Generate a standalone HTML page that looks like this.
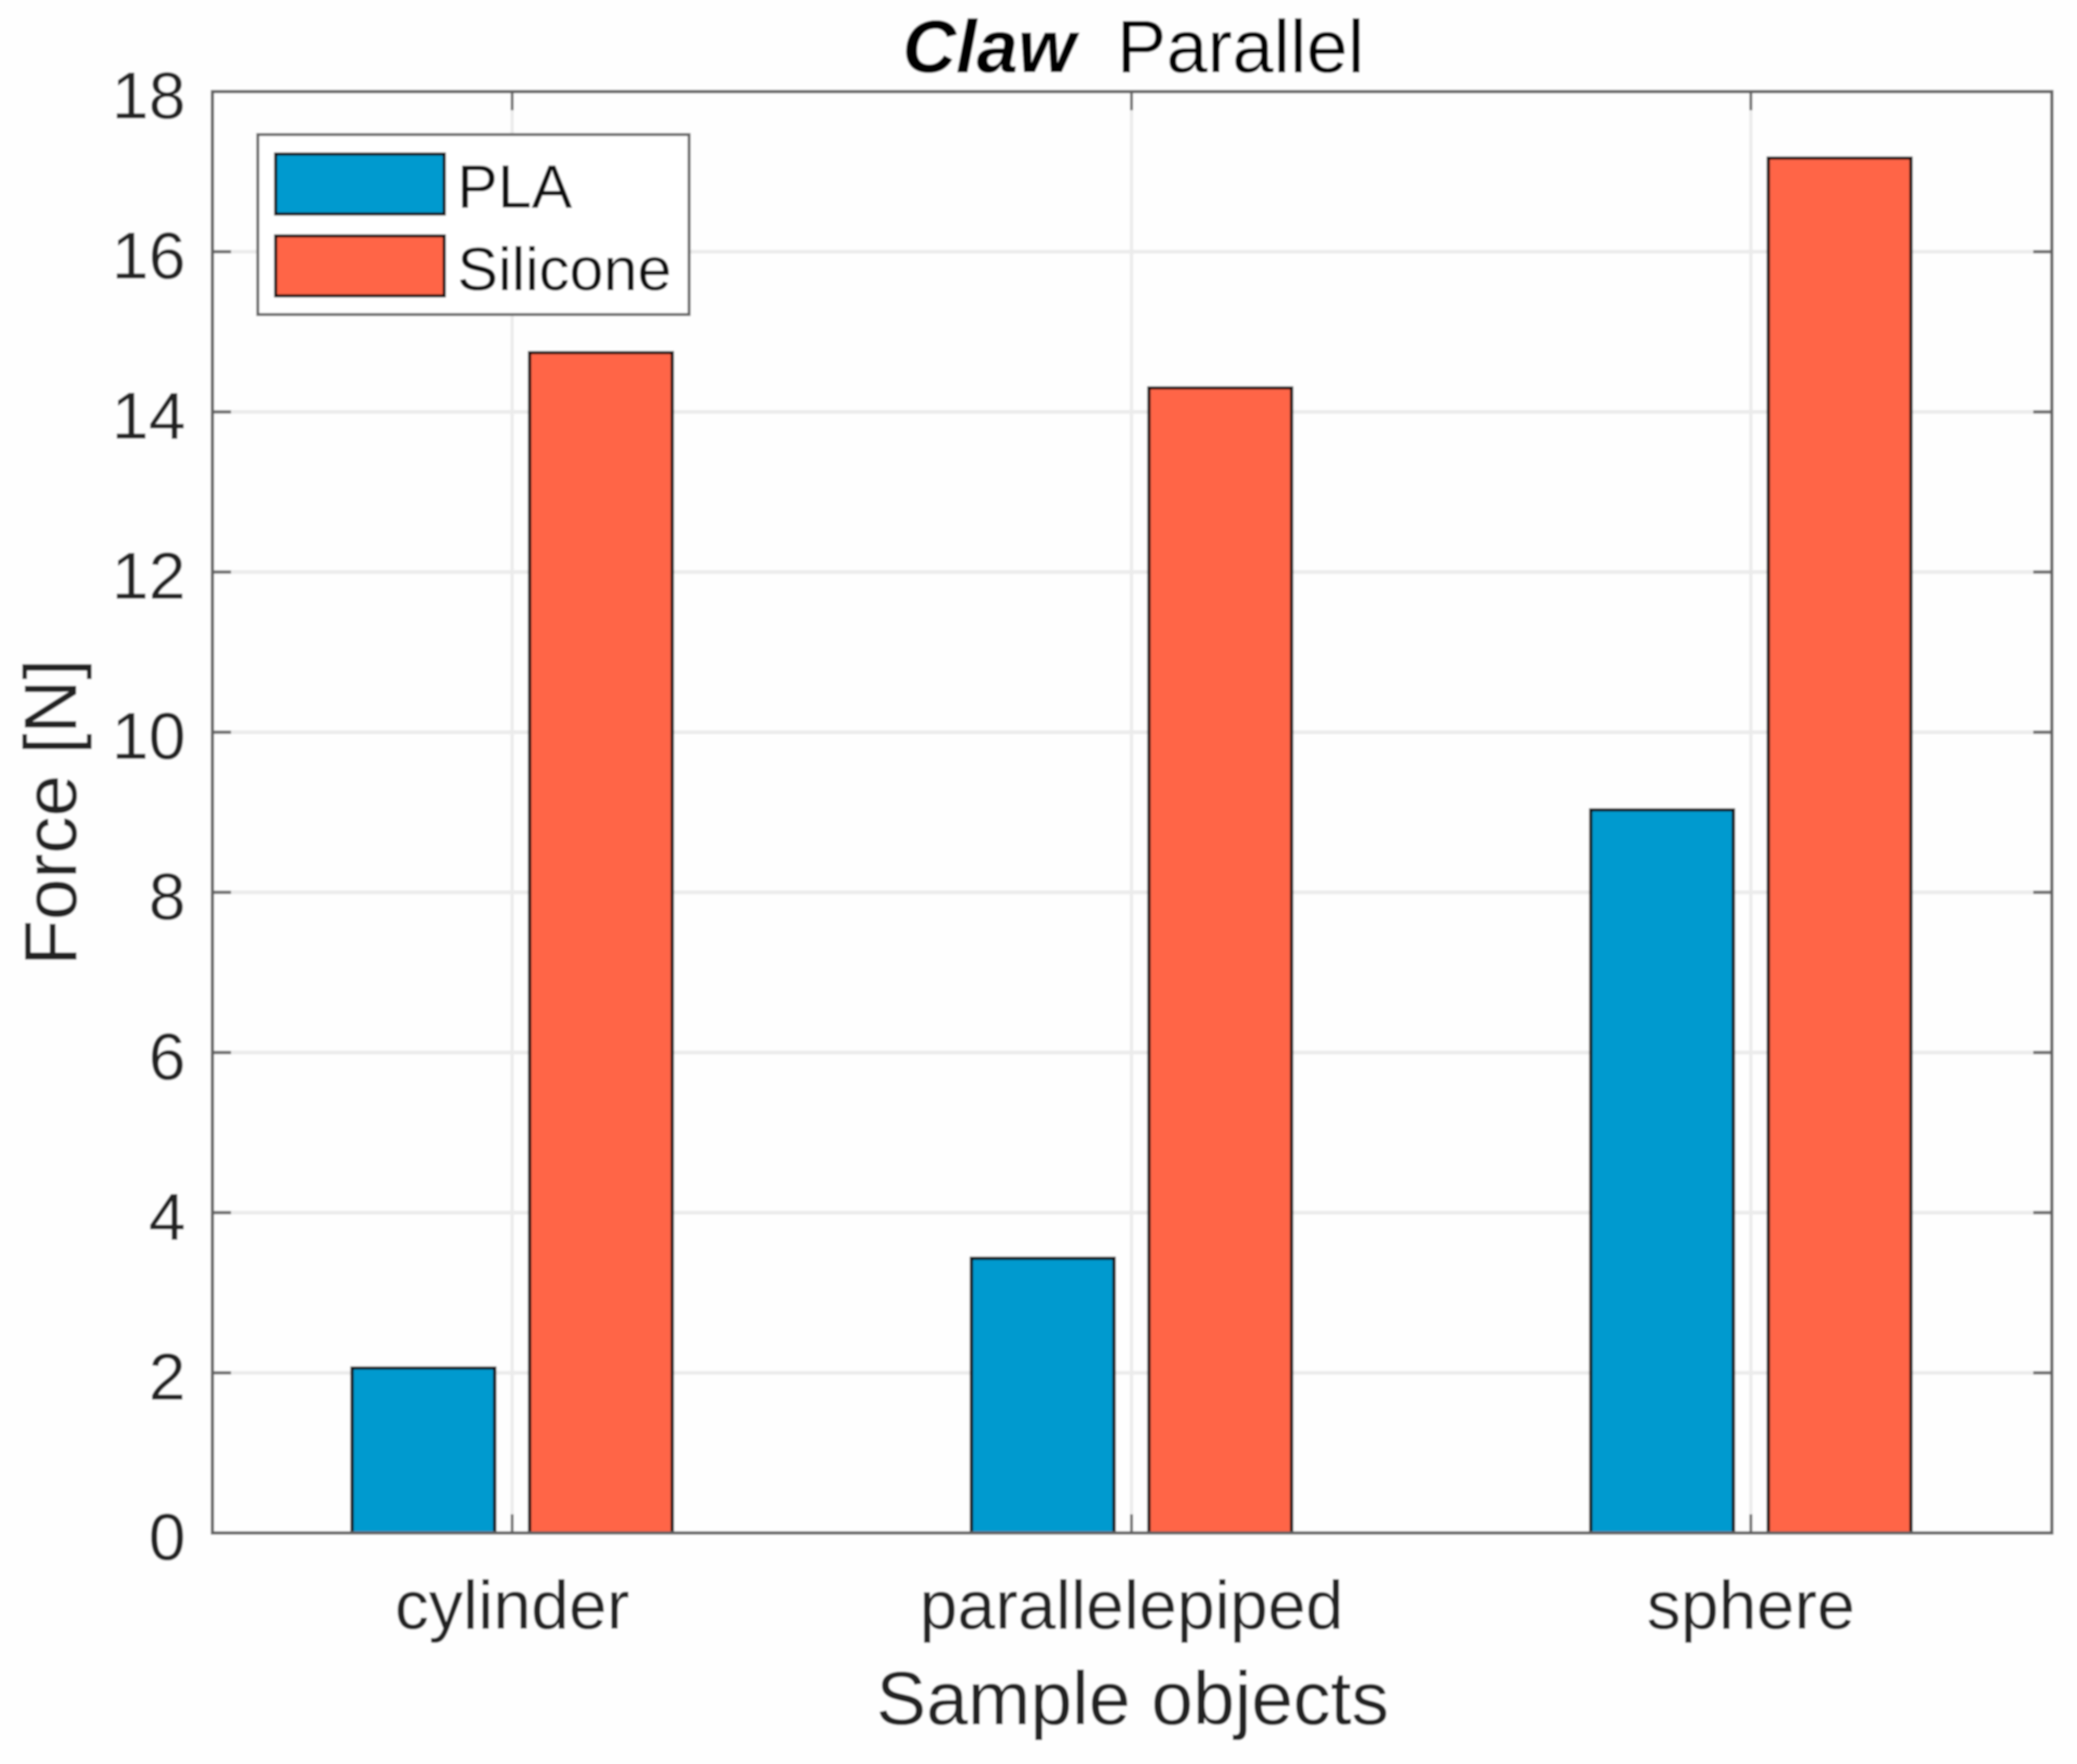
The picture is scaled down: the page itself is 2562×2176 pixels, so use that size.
<!DOCTYPE html>
<html lang="en">
<head>
<meta charset="utf-8">
<title>Claw Parallel</title>
<style>
html,body{margin:0;padding:0;background:#fefefe;}
svg{display:block;}
text{font-family:"Liberation Sans",Arial,sans-serif;fill:#222222;}
</style>
</head>
<body>
<svg id="chart" xmlns="http://www.w3.org/2000/svg" width="2562" height="2176" viewBox="0 0 2562 2176">
  <defs>
    <filter id="soft" x="-2%" y="-2%" width="104%" height="104%"><feGaussianBlur stdDeviation="1.1"/></filter>
  </defs>
  <g filter="url(#soft)">
    <rect x="0" y="0" width="2562" height="2176" fill="#fefefe"/>
    <g id="grid"></g>
    <g id="bars"></g>
    <g id="ticks"></g>
    <rect x="262" y="113" width="2269" height="1778" fill="none" stroke="#606060" stroke-width="4"/>
    <g id="labels"></g>
    <text x="1398" y="89" font-size="91.5" text-anchor="middle" style="white-space:pre;fill:#000"><tspan font-weight="bold" font-style="italic">Claw</tspan>  Parallel</text>
    <text x="1397" y="2127" font-size="92.5" text-anchor="middle">Sample objects</text>
    <text transform="translate(94 1002) rotate(-90)" font-size="92" text-anchor="middle">Force [N]</text>
    <g>
      <rect x="318" y="166" width="532" height="222" fill="#ffffff" stroke="#606060" stroke-width="3.5"/>
      <rect x="340" y="190" width="208" height="74" fill="#009ACF" stroke="#111111" stroke-width="4"/>
      <text x="564" y="256" font-size="75" style="fill:#111">PLA</text>
      <rect x="340" y="291" width="208" height="74" fill="#FF6547" stroke="#111111" stroke-width="4"/>
      <text x="564" y="358" font-size="75.5" style="fill:#111">Silicone</text>
    </g>
  </g>
</svg>
<script>
const categories = ["cylinder", "parallelepiped", "sphere"];
const plaValues = [2.06, 3.43, 9.03];
const siliconeValues = [14.74, 14.30, 17.17];
const yTickValues = [0, 2, 4, 6, 8, 10, 12, 14, 16, 18];

const NS = "http://www.w3.org/2000/svg";
const PLOT = { left: 262, right: 2531, top: 113, bottom: 1891 };
const Y_MAX = 18;
const BAR_WIDTH = 176;
const BAR_OFFSET = 109.5;
const TICK_LEN = 23;

function xScale(i) {
  const xMin = 0.516, xMax = 3.486;
  return PLOT.left + ((i + 1 - xMin) / (xMax - xMin)) * (PLOT.right - PLOT.left);
}
function yScale(v) {
  return PLOT.bottom - (v / Y_MAX) * (PLOT.bottom - PLOT.top);
}
function make(tag, attrs, parent) {
  const el = document.createElementNS(NS, tag);
  for (const k in attrs) el.setAttribute(k, attrs[k]);
  parent.appendChild(el);
  return el;
}

const gridG = document.getElementById("grid");
const barsG = document.getElementById("bars");
const ticksG = document.getElementById("ticks");
const labelsG = document.getElementById("labels");

yTickValues.forEach(function (v) {
  const y = yScale(v);
  if (v > 0 && v < Y_MAX) {
    const g = make("line", { x1: PLOT.left, x2: PLOT.right, y1: y, y2: y, stroke: "#ebebeb", "stroke-width": 4.5 }, gridG);
    
    
  }
  const t1 = make("line", { x1: PLOT.left, x2: PLOT.left + TICK_LEN, y1: y, y2: y, stroke: "#6a6a6a", "stroke-width": 4 }, ticksG);
  
  
  const t2 = make("line", { x1: PLOT.right - TICK_LEN, x2: PLOT.right, y1: y, y2: y, stroke: "#6a6a6a", "stroke-width": 4 }, ticksG);
  
  
  const lab = make("text", { x: 229, y: y + 33, "font-size": 82, "text-anchor": "end" }, labelsG);
  lab.textContent = String(v);
  
  
});

categories.forEach(function (name, i) {
  const x = xScale(i);
  const g = make("line", { x1: x, x2: x, y1: PLOT.top, y2: PLOT.bottom, stroke: "#ebebeb", "stroke-width": 4 }, gridG);
  
  

  const t1 = make("line", { x1: x, x2: x, y1: PLOT.top, y2: PLOT.top + TICK_LEN, stroke: "#6a6a6a", "stroke-width": 3.5 }, ticksG);
  
  
  const t2 = make("line", { x1: x, x2: x, y1: PLOT.bottom - TICK_LEN, y2: PLOT.bottom, stroke: "#6a6a6a", "stroke-width": 3.5 }, ticksG);
  
  

  const lab = make("text", { x: x, y: 2009, "font-size": 84, "text-anchor": "middle" }, labelsG);
  lab.textContent = name;
  
  

  const yPla = yScale(plaValues[i]);
  const barPla = make("rect", { x: x - BAR_OFFSET - BAR_WIDTH / 2, y: yPla, width: BAR_WIDTH, height: PLOT.bottom - yPla, fill: "#009ACF", stroke: "#111111", "stroke-width": 4 }, barsG);
  
  

  const ySil = yScale(siliconeValues[i]);
  const barSil = make("rect", { x: x + BAR_OFFSET - BAR_WIDTH / 2, y: ySil, width: BAR_WIDTH, height: PLOT.bottom - ySil, fill: "#FF6547", stroke: "#111111", "stroke-width": 4 }, barsG);
  
  
});
</script>
</body>
</html>
